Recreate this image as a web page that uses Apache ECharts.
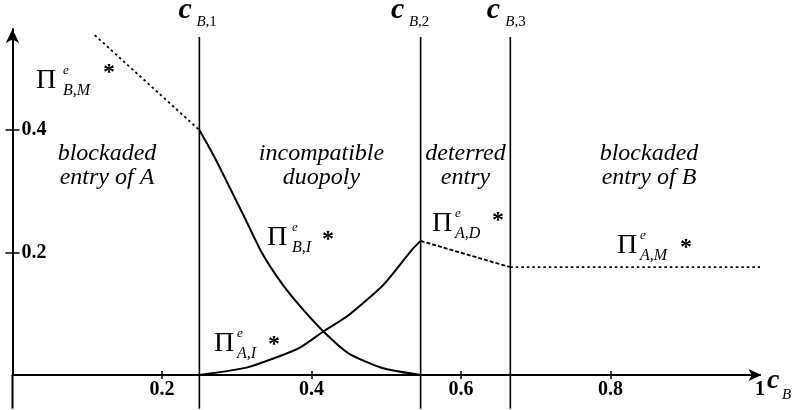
<!DOCTYPE html>
<html>
<head>
<meta charset="utf-8">
<script src="https://cdn.jsdelivr.net/npm/echarts@6/dist/echarts.min.js"></script>
<style>
  html, body { margin: 0; padding: 0; background: #fff; }
  #chart { width: 794px; height: 410px; }
</style>
</head>
<body>
<div id="chart"></div>
<script>
// Cost thresholds of firm B that separate the four regimes
const thresholds = [0.25, 0.546, 0.666];
const thresholdIndex = ['1', '2', '3'];

// Equilibrium profits as functions of c_B
const bmX = [0.11, 0.25];                       // Π^e_{B,M}*  (B monopoly)
const bmY = [0.555, 0.4];
const biX = [0.25, 0.271, 0.289, 0.311, 0.333, 0.36, 0.385, 0.416, 0.45, 0.496, 0.546]; // Π^e_{B,I}*
const biY = [0.4, 0.354, 0.31, 0.256, 0.201, 0.15, 0.112, 0.071, 0.035, 0.011, 0];
const aiX = [0.25, 0.313, 0.358, 0.385, 0.416, 0.45, 0.496, 0.534, 0.546];  // Π^e_{A,I}*
const aiY = [0, 0.012, 0.031, 0.045, 0.071, 0.098, 0.147, 0.204, 0.219];
const adX = [0.546, 0.666];                     // Π^e_{A,D}*  (deterred entry)
const adY = [0.219, 0.176];
const amX = [0.666, 1.0];                       // Π^e_{A,M}*  (A monopoly)
const amY = [0.176, 0.176];

// Axis ticks and labels
const xTickValues = [0.2, 0.4, 0.6, 0.8];
const xLabelValues = [0.2, 0.4, 0.6, 0.8, 1];
const yTickValues = [0.2, 0.4];

// Region names and curve names
const regionNames = ['blockaded\nentry of A', 'incompatible\nduopoly', 'deterred\nentry', 'blockaded\nentry of B'];
const curveSubs = ['B,M', 'B,I', 'A,I', 'A,D', 'A,M'];

// ---- layout (data-space anchors and pixel nudges for annotations) ----
const Y_MAX = 0.565, X_MAX = 1.0;
const BELOW = -0.055;       // how far the guide lines run under the horizontal axis
const LINE_TOP = 0.552;
const regionAnchors = [[0.1264, 0.3478], [0.4134, 0.3478], [0.606, 0.3478], [0.8515, 0.3478]];
const curveAnchors = [[0.0314, 0.4653], [0.3405, 0.209], [0.2696, 0.0359], [0.5612, 0.2318], [0.8087, 0.1959]];
const starNudge = [[67, -9], [55, 1], [54, 0], [60, -4], [63, 1]];
const supNudge = [27, 25, 23, 23, 23];
const threshCDx = [-21, -29.7, -23.7];
const threshSubDx = [-3, -11.7, -5];

const SERIF = '"Liberation Serif", "Times New Roman", serif';
const pairs = (xs, ys) => xs.map((x, i) => [x, ys[i]]);

const chart = echarts.init(document.getElementById('chart'), null, { renderer: 'canvas' });

const solid = { color: '#000', width: 2, type: 'solid' };
const tickStyle = { color: '#000', width: 1.5 };
const labelFont = { color: '#000', fontFamily: SERIF, fontWeight: 'bold', fontSize: 20 };

// vertical guides at the thresholds (they run a little under the horizontal axis)
const guideSeries = thresholds.map((t, i) => ({
  name: 'cB' + thresholdIndex[i], type: 'line', data: [[t, BELOW], [t, LINE_TOP]],
  symbol: 'none', silent: true, clip: false,
  lineStyle: { color: '#000', width: 1.6, type: 'solid' }
}));
// short stub of the vertical axis under the origin
guideSeries.push({
  name: 'yStub', type: 'line', data: [[0, BELOW], [0, 0]],
  symbol: 'none', silent: true, clip: false,
  lineStyle: { color: '#000', width: 2, type: 'solid' }
});

chart.setOption({
  animation: false,
  backgroundColor: '#fff',
  grid: { left: 12.5, right: 34, top: 29, bottom: 35, containLabel: false, outerBoundsMode: 'none' },
  xAxis: [
    {
      type: 'value', min: 0, max: X_MAX, position: 'bottom',
      axisLine: { onZero: false, lineStyle: { color: '#000', width: 2 }, symbol: ['none', 'arrow'], symbolSize: [9, 13], symbolOffset: [0, 1.5] },
      axisTick: { show: true, customValues: xTickValues, length: 4, inside: false, lineStyle: tickStyle },
      axisLabel: Object.assign({ customValues: xLabelValues, margin: 5 }, labelFont),
      splitLine: { show: false }
    },
    {
      type: 'value', min: 0, max: X_MAX, position: 'bottom',
      axisLine: { show: false, onZero: false },
      axisTick: { show: true, customValues: xTickValues, length: 4, inside: true, lineStyle: tickStyle },
      axisLabel: { show: false },
      splitLine: { show: false }
    }
  ],
  yAxis: [
    {
      type: 'value', min: 0, max: Y_MAX, position: 'left',
      axisLine: { onZero: false, lineStyle: { color: '#000', width: 2 }, symbol: ['none', 'arrow'], symbolSize: [10, 14] },
      axisTick: { show: true, customValues: yTickValues, length: 7, inside: false, lineStyle: tickStyle },
      axisLabel: Object.assign({ customValues: yTickValues, inside: true, margin: 9 }, labelFont),
      splitLine: { show: false }
    },
    {
      type: 'value', min: 0, max: Y_MAX, position: 'left',
      axisLine: { show: false, onZero: false },
      axisTick: { show: true, customValues: yTickValues, length: 7, inside: true, lineStyle: tickStyle },
      axisLabel: { show: false },
      splitLine: { show: false }
    }
  ],
  series: guideSeries.concat([
    {
      name: 'PiBM', type: 'line', data: pairs(bmX, bmY), symbol: 'none', silent: true,
      lineStyle: { color: '#000', width: 1.8, type: [2.5, 3] }
    },
    {
      name: 'PiBI', type: 'line', data: pairs(biX, biY), symbol: 'none', silent: true,
      smooth: 0.2, lineStyle: solid
    },
    {
      name: 'PiAI', type: 'line', data: pairs(aiX, aiY), symbol: 'none', silent: true,
      smooth: 0.2, lineStyle: solid
    },
    {
      name: 'PiAD', type: 'line', data: pairs(adX, adY), symbol: 'none', silent: true,
      lineStyle: { color: '#000', width: 1.8, type: [4, 2] }
    },
    {
      name: 'PiAM', type: 'line', data: pairs(amX, amY), symbol: 'none', silent: true,
      lineStyle: { color: '#000', width: 1.8, type: [2.5, 3] }
    }
  ])
});

// ---- annotations placed through the grid's own scales ----
const toPx = (p) => chart.convertToPixel({ gridIndex: 0 }, p);

// text element whose alphabetic baseline sits at y
function txt(x, baseline, text, size, style, align) {
  return {
    type: 'text', silent: true, z: 10,
    x: x, y: baseline - 0.34 * size,
    style: Object.assign({
      text: text, fill: '#000', align: align || 'left', verticalAlign: 'middle',
      fontFamily: SERIF, fontSize: size
    }, style || {})
  };
}

const g = [];

// region names
regionNames.forEach((name, i) => {
  const p = toPx(regionAnchors[i]);
  g.push({
    type: 'text', silent: true, z: 10, x: p[0], y: p[1] - 20,
    style: {
      text: name, fill: '#000', align: 'center', verticalAlign: 'top',
      fontFamily: SERIF, fontStyle: 'italic', fontSize: 24, lineHeight: 24
    }
  });
});

// curve names Π^e_{..} *
curveSubs.forEach((sub, i) => {
  const p = toPx(curveAnchors[i]);
  g.push(txt(p[0], p[1], 'Π', 28));
  g.push(txt(p[0] + supNudge[i], p[1] - 15, 'e', 13, { fontStyle: 'italic' }));
  g.push(txt(p[0] + supNudge[i], p[1] + 6, sub, 16, { fontStyle: 'italic' }));
  g.push(txt(p[0] + starNudge[i][0], p[1] + starNudge[i][1], '*', 24, { fontWeight: 'bold' }));
});

// threshold names c_{B,k}
thresholds.forEach((t, i) => {
  const p = toPx([t, LINE_TOP]);
  const cx = p[0] + threshCDx[i];
  g.push(txt(cx, p[1] - 17, 'c', 30, { fontStyle: 'italic', fontWeight: 'bold' }));
  g.push({
    type: 'text', silent: true, z: 10,
    x: p[0] + threshSubDx[i], y: p[1] - 10 - 0.34 * 15,
    style: {
      text: '{i|B}{r|,' + thresholdIndex[i] + '}', verticalAlign: 'middle', align: 'left',
      rich: {
        i: { fontFamily: SERIF, fontStyle: 'italic', fontSize: 15, fill: '#000' },
        r: { fontFamily: SERIF, fontSize: 15, fill: '#000' }
      }
    }
  });
});

// horizontal axis name c_B
const end = toPx([X_MAX, 0]);
g.push(txt(end[0] + 7, end[1] + 15, 'c', 28, { fontStyle: 'italic', fontWeight: 'bold' }));
g.push(txt(end[0] + 22, end[1] + 25, 'B', 15, { fontStyle: 'italic' }));

chart.setOption({ graphic: g });
</script>
</body>
</html>
